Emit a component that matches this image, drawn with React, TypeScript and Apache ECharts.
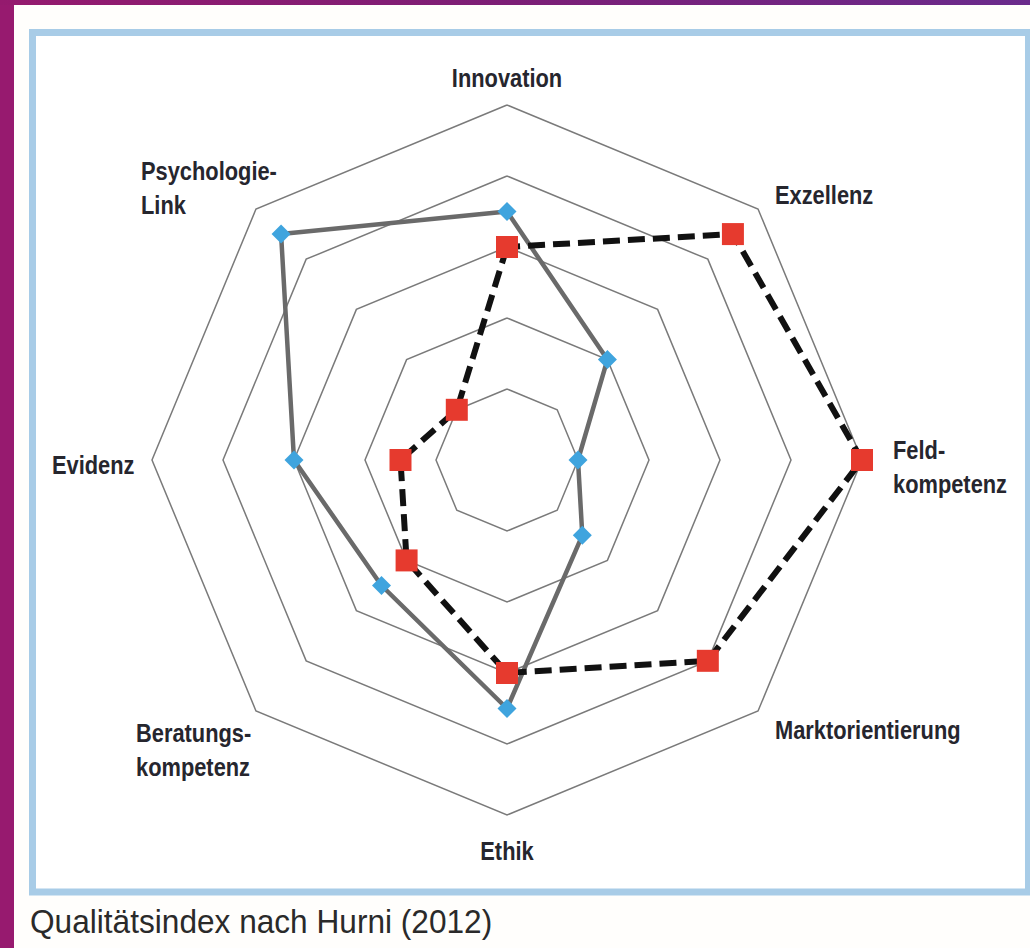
import React, { useEffect, useRef } from "react";
import * as echarts from "echarts";

// Indicators in ECharts order (counter-clockwise from the top)
const indicators = [
  "Innovation",
  "Psychologie-Link",
  "Evidenz",
  "Beratungskompetenz",
  "Ethik",
  "Marktorientierung",
  "Feldkompetenz",
  "Exzellenz",
];
const maxValue = 5;
const seriesBlue = [3.5, 4.5, 3.0, 2.5, 3.5, 1.5, 1.0, 2.0];
const seriesRed = [3.0, 1.0, 1.5, 2.0, 3.0, 4.0, 5.0, 4.5];

const axisLabels = [
  { text: "Innovation", x: 507, y: 78, align: "center" },
  { text: "Exzellenz", x: 775, y: 195, align: "left" },
  { text: "Feld-\nkompetenz", x: 893, y: 467, align: "left" },
  { text: "Marktorientierung", x: 775, y: 730, align: "left" },
  { text: "Ethik", x: 507, y: 851, align: "center" },
  { text: "Beratungs-\nkompetenz", x: 136, y: 750, align: "left" },
  { text: "Evidenz", x: 52, y: 465, align: "left" },
  { text: "Psychologie-\nLink", x: 141, y: 188, align: "left" },
];
const caption = "Qualitätsindex nach Hurni (2012)";

const labelFont = '"Liberation Sans", Arial, sans-serif';

export default function App() {
  const ref = useRef<HTMLDivElement>(null);
  useEffect(() => {
    if (!ref.current) return;
    const chart = echarts.init(ref.current, null, { renderer: "svg" });
    chart.setOption({
      animation: false,
      backgroundColor: "#fffefc",
      graphic: [
        {
          type: "rect",
          shape: { x: 0, y: 0, width: 14, height: 948 },
          style: { fill: "#971a6f" },
          z: 0,
        },
        {
          type: "rect",
          shape: { x: 0, y: 0, width: 1030, height: 5 },
          style: {
            fill: new echarts.graphic.LinearGradient(0, 0, 1, 0, [
              { offset: 0, color: "#951a6e" },
              { offset: 0.5, color: "#7c1e76" },
              { offset: 1, color: "#6a2b8c" },
            ]),
          },
          z: 0,
        },
        {
          type: "rect",
          shape: { x: 32.5, y: 32.5, width: 996, height: 859.5 },
          style: { fill: "#ffffff", stroke: "#a8cce7", lineWidth: 7 },
          z: 0,
        },
        ...axisLabels.map((l) => ({
          type: "text",
          x: l.x,
          y: l.y,
          scaleX: 0.84,
          z: 10,
          style: {
            text: l.text,
            font: `bold 26px ${labelFont}`,
            fill: "#26262e",
            align: l.align,
            verticalAlign: "middle",
            lineHeight: 34,
          },
        })),
        {
          type: "text",
          x: 30,
          y: 921,
          scaleX: 0.93,
          z: 10,
          style: {
            text: caption,
            font: '34px "Liberation Sans", Arial, sans-serif',
            fill: "#2a2a2a",
            align: "left",
            verticalAlign: "middle",
          },
        },
      ],
      radar: {
        center: [507, 460],
        radius: 355,
        startAngle: 90,
        splitNumber: 5,
        shape: "polygon",
        indicator: indicators.map((name) => ({ name, min: 0, max: maxValue })),
        axisName: { show: false },
        axisLine: { show: false },
        axisTick: { show: false },
        axisLabel: { show: false },
        splitArea: { show: false },
        splitLine: { lineStyle: { color: "#7a7a7a", width: 1.5 } },
      },
      series: [
        {
          type: "radar",
          z: 2,
          data: [
            {
              value: seriesBlue,
              name: "Profil A",
              symbol: "diamond",
              symbolSize: 19,
              itemStyle: { color: "#3fa4de" },
              lineStyle: { color: "#6a6a6a", width: 4.5 },
            },
          ],
        },
        {
          type: "radar",
          z: 3,
          data: [
            {
              value: seriesRed,
              name: "Profil B",
              symbol: "rect",
              symbolSize: 22,
              itemStyle: { color: "#e63a2e" },
              lineStyle: { color: "#111111", width: 6, type: [17, 8] },
            },
          ],
        },
      ],
    });
    return () => chart.dispose();
  }, []);
  return (
    <div
      ref={ref}
      style={{ position: "fixed", left: 0, top: 0, width: 1030, height: 948 }}
    />
  );
}
